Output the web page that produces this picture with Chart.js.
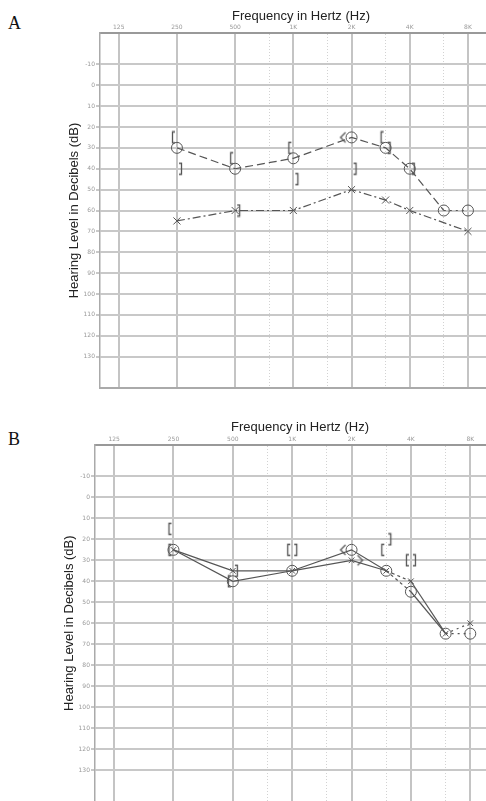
<!DOCTYPE html>
<html>
<head>
<meta charset="utf-8">
<script src="https://cdn.jsdelivr.net/npm/chart.js@4.4.1/dist/chart.umd.min.js"></script>
<style>
  html, body { margin: 0; padding: 0; background: #fff; overflow: hidden; }
  body { width: 486px; height: 801px; position: relative; }
  .panel { position: absolute; left: 0; }
  .letter { position: absolute; left: 8px; font-family: "Liberation Serif", "DejaVu Serif", serif; font-size: 18px; color: #111; }
</style>
</head>
<body>
<div class="letter" style="top:13px">A</div>
<div class="letter" style="top:429px">B</div>
<div class="panel" style="top:0"><canvas id="chartA" width="502" height="400"></canvas></div>
<div class="panel" style="top:400px"><canvas id="chartB" width="505" height="406"></canvas></div>
<script>
// Axis ticks ---------------------------------- { Axes }
const gridFreqs = [125, 250, 500, 750, 1000, 1500, 2000, 3000, 4000, 6000, 8000];
const freqLabels = ["125", "250", "500", "", "1K", "", "2K", "", "4K", "", "8K"];
const midFreqs = [750, 1500, 3000, 6000];
const dbTicks = [-10, 0, 10, 20, 30, 40, 50, 60, 70, 80, 90, 100, 110, 120, 130];

// Audiogram A ---------------------------------- { A }
const freqsA = [250, 500, 1000, 2000, 3000, 4000, 6000, 8000];
const rightAirA = [30, 40, 35, 25, 30, 40, 60, 60];
const leftAirFreqsA = [250, 500, 1000, 2000, 3000, 4000, 8000];
const leftAirA = [65, 60, 60, 50, 55, 60, 70];
const rightBoneFreqsA = [250, 500, 1000, 3000];
const rightBoneA = [25, 35, 30, 25];
const leftBoneFreqsA = [250, 500, 1000, 2000, 3000, 4000];
const leftBoneA = [40, 60, 45, 40, 30, 40];
const rightUnmaskedFreqsA = [2000];
const rightUnmaskedA = [25];

// Audiogram B ---------------------------------- { B }
const freqsB = [250, 500, 1000, 2000, 3000, 4000, 6000, 8000];
const rightAirB = [25, 40, 35, 25, 35, 45, 65, 65];
const leftAirB = [25, 35, 35, 30, 35, 40, 65, 60];
const rightBoneFreqsB = [250, 250, 500, 1000, 3000, 4000];
const rightBoneB = [15, 25, 40, 25, 25, 30];
const leftBoneFreqsB = [500, 1000, 3000, 4000];
const leftBoneB = [35, 25, 20, 30];
const rightUnmaskedFreqsB = [2000];
const rightUnmaskedB = [25];
const leftUnmaskedFreqsB = [2000];
const leftUnmaskedB = [30];

const ink = "#555";

class AudiogramUI {
  // Marker glyphs drawn on small canvases ---------------- { Markers }
  marker(kind) {
    const c = document.createElement("canvas");
    c.width = 30;
    c.height = 14;
    const ctx = c.getContext("2d");
    ctx.strokeStyle = ink;
    ctx.lineWidth = 1.3;
    ctx.beginPath();
    if (kind === "[") {
      ctx.moveTo(13, 1.5); ctx.lineTo(10.5, 1.5); ctx.lineTo(10.5, 12.5); ctx.lineTo(13, 12.5);
    } else if (kind === "]") {
      ctx.moveTo(17, 1.5); ctx.lineTo(19.5, 1.5); ctx.lineTo(19.5, 12.5); ctx.lineTo(17, 12.5);
    } else if (kind === "<") {
      ctx.moveTo(9, 2); ctx.lineTo(4, 7); ctx.lineTo(9, 12);
    } else {
      ctx.moveTo(21, 2); ctx.lineTo(26, 7); ctx.lineTo(21, 12);
    }
    ctx.stroke();
    return c;
  }
  points(xs, ys) {
    return xs.map((x, i) => ({ x: x, y: ys[i] }));
  }
  symbolSet(xs, ys, kind) {
    return {
      data: this.points(xs, ys),
      showLine: false,
      pointStyle: this.marker(kind),
      pointRadius: 6,
    };
  }
  // Build one chart ---------------------------------- { Chart }
  build(id, yWidth, xHeight, padBottom, titleX, titleY, datasets, framed) {
    const frame = {
      id: "frame" + id,
      afterDraw(chart) {
        if (!framed) return;
        const { ctx, chartArea } = chart;
        ctx.save();
        ctx.strokeStyle = "#aaa";
        ctx.lineWidth = 2;
        ctx.beginPath();
        ctx.moveTo(chartArea.left, chartArea.bottom);
        ctx.lineTo(chartArea.right, chartArea.bottom);
        ctx.stroke();
        ctx.restore();
      },
    };
    const isMid = (c) => c.tick && midFreqs.includes(c.tick.value);
    return new Chart(document.getElementById(id).getContext("2d"), {
      type: "line",
      data: { datasets: datasets },
      plugins: [frame],
      options: {
        responsive: false,
        animation: false,
        layout: { autoPadding: false, padding: { left: 0, right: 0, top: 0, bottom: padBottom } },
        plugins: { legend: { display: false }, tooltip: { enabled: false } },
        scales: {
          x: {
            type: "logarithmic",
            position: "top",
            min: 100,
            max: 12000,
            afterBuildTicks: (s) => { s.ticks = gridFreqs.map((v) => ({ value: v })); },
            afterFit: (s) => { s.height = xHeight; },
            ticks: {
              autoSkip: false,
              maxRotation: 0,
              padding: 0,
              color: "#999",
              font: { family: "DejaVu Sans", size: 6 },
              callback: (v, i) => freqLabels[i],
            },
            grid: {
              color: (c) => (isMid(c) ? "#d2d2d2" : "#c4c4c4"),
              lineWidth: (c) => (isMid(c) ? 1 : 2),
              tickLength: 2,
              tickColor: "#fff",
            },
            border: { color: "#999", width: 2, dash: (c) => (isMid(c) ? [1, 2] : []) },
            title: {
              display: true,
              text: "Frequency in Hertz (Hz)",
              color: "#222",
              padding: { top: titleX, bottom: 0 },
              font: { family: "Liberation Sans", size: 13 },
            },
          },
          y: {
            reverse: true,
            min: -25,
            max: 145,
            afterBuildTicks: (s) => { s.ticks = dbTicks.map((v) => ({ value: v })); },
            afterFit: (s) => { s.width = yWidth; },
            ticks: {
              padding: 1,
              color: "#999",
              font: { family: "DejaVu Sans", size: 6 },
            },
            grid: { color: "#c8c8c8", lineWidth: 2, tickLength: 4 },
            border: { color: "#aaa", width: 1.5 },
            title: {
              display: true,
              text: "Hearing Level in Decibels (dB)",
              color: "#222",
              padding: { top: titleY, bottom: 0 },
              font: { family: "Liberation Sans", size: 13 },
            },
          },
        },
      },
    });
  }
}

const ui = new AudiogramUI();

// A ---------------------------------- { Chart A }
ui.build("chartA", 100, 33, 12, 9, 67, [
  {
    data: ui.points(freqsA, rightAirA),
    borderColor: ink,
    borderWidth: 1.2,
    borderDash: [8, 4],
    segment: { borderDash: (s) => (s.p0DataIndex === 6 ? [2, 4] : [8, 4]) },
    pointStyle: "circle",
    pointRadius: 5.5,
    pointBackgroundColor: "rgba(255,255,255,0)",
    pointBorderColor: ink,
    pointBorderWidth: 1,
  },
  {
    data: ui.points(leftAirFreqsA, leftAirA),
    borderColor: ink,
    borderWidth: 1.2,
    borderDash: [8, 3, 2, 3],
    pointStyle: "crossRot",
    pointRadius: 5,
    pointBorderColor: ink,
    pointBorderWidth: 1,
  },
  ui.symbolSet(rightBoneFreqsA, rightBoneA, "["),
  ui.symbolSet(leftBoneFreqsA, leftBoneA, "]"),
  ui.symbolSet(rightUnmaskedFreqsA, rightUnmaskedA, "<"),
], true);

// B ---------------------------------- { Chart B }
const dashB = (s) => (s.p0DataIndex === 4 ? [3, 3] : s.p0DataIndex === 6 ? [2, 4] : []);
ui.build("chartB", 95, 45, 0, 20, 62, [
  {
    data: ui.points(freqsB, rightAirB),
    borderColor: ink,
    borderWidth: 1.2,
    segment: { borderDash: dashB },
    pointStyle: "circle",
    pointRadius: 5.5,
    pointBackgroundColor: "rgba(255,255,255,0)",
    pointBorderColor: ink,
    pointBorderWidth: 1,
  },
  {
    data: ui.points(freqsB, leftAirB),
    borderColor: ink,
    borderWidth: 1.2,
    segment: { borderDash: dashB },
    pointStyle: "crossRot",
    pointRadius: 4,
    pointBorderColor: ink,
    pointBorderWidth: 1,
  },
  ui.symbolSet(rightBoneFreqsB, rightBoneB, "["),
  ui.symbolSet(leftBoneFreqsB, leftBoneB, "]"),
  ui.symbolSet(rightUnmaskedFreqsB, rightUnmaskedB, "<"),
  ui.symbolSet(leftUnmaskedFreqsB, leftUnmaskedB, ">"),
], false);
</script>
</body>
</html>
